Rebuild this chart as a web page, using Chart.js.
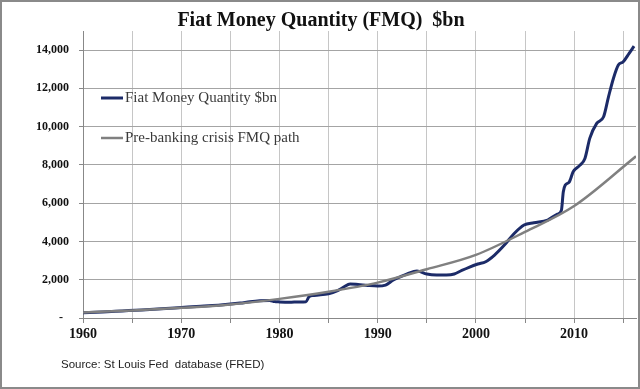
<!DOCTYPE html>
<html lang="en">
<head>
  <meta charset="UTF-8">
  <title>Fiat Money Quantity (FMQ) $bn</title>
  <script src="https://cdn.jsdelivr.net/npm/chart.js"></script>
  <style>
    body { margin: 0; background: #ffffff; }
    #wrap { width: 640px; height: 389px; }
  </style>
</head>
<body>
  <div id="wrap">
    <canvas id="fmqChart" width="640" height="389"></canvas>
  </div>

  <script>
    // Fiat money quantity, $bn
    const fmqYears = [1960, 1962, 1964, 1966, 1968, 1970, 1972, 1974, 1976, 1977, 1978, 1979, 1979.5, 1980, 1981, 1982, 1982.7, 1983.0, 1983.5, 1984, 1985, 1985.8, 1986.5, 1987.2, 1988, 1989, 1990, 1990.8, 1991.6, 1992.3, 1993, 1994, 1995, 1996, 1997, 1997.8, 1998.5, 1999.3, 2000.2, 2001, 2001.9, 2002.9, 2003.9, 2004.9, 2005.9, 2007.3, 2008.3, 2008.7, 2008.9, 2009.1, 2009.5, 2009.9, 2010.6, 2011.1, 2011.6, 2012.3, 2013.0, 2013.5, 2014.0, 2014.5, 2015.0, 2015.6, 2016.1];
    const fmqValues = [280, 320, 370, 420, 480, 550, 620, 680, 780, 850, 900, 920, 860, 840, 820, 840, 850, 1100, 1180, 1200, 1270, 1400, 1600, 1780, 1750, 1700, 1670, 1720, 1990, 2150, 2300, 2460, 2300, 2250, 2250, 2300, 2470, 2650, 2820, 2940, 3290, 3810, 4420, 4860, 4980, 5120, 5430, 5620, 6600, 6950, 7100, 7640, 7990, 8340, 9400, 10170, 10520, 11560, 12520, 13220, 13390, 13830, 14210];

    // Pre-banking crisis FMQ path, $bn
    const pathYears = [1960, 1965, 1970, 1975, 1980, 1985, 1990, 1995, 2000, 2005, 2010, 2016.3];
    const pathValues = [290, 390, 530, 710, 1000, 1370, 1850, 2550, 3300, 4500, 5850, 8450];

    const xTickYears = [1960, 1965, 1970, 1975, 1980, 1985, 1990, 1995, 2000, 2005, 2010, 2015];
    const yTickValues = [0, 2000, 4000, 6000, 8000, 10000, 12000, 14000];

    const seriesLabels = ['Fiat Money Quantity $bn', 'Pre-banking crisis FMQ path'];
    const seriesColors = ['#1c2b68', '#808080'];

    function toPoints(xs, ys) {
      return xs.map((x, i) => ({ x: x, y: ys[i] }));
    }

    // title, legend, source note and frame
    const decorations = {
      id: 'decorations',
      afterDraw(chart) {
        const ctx = chart.ctx;
        ctx.save();

        ctx.fillStyle = '#111';
        ctx.font = 'bold 20px "Liberation Serif", serif';
        ctx.textAlign = 'center';
        ctx.textBaseline = 'alphabetic';
        ctx.fillText('Fiat Money Quantity (FMQ)  $bn', 321, 26);

        // legend inside the plot
        const rows = [98, 138];
        ctx.font = '15px "Liberation Serif", serif';
        ctx.textAlign = 'left';
        ctx.textBaseline = 'middle';
        rows.forEach((y, i) => {
          ctx.strokeStyle = seriesColors[i];
          ctx.lineWidth = i === 0 ? 3 : 2.5;
          ctx.beginPath();
          ctx.moveTo(101, y);
          ctx.lineTo(123, y);
          ctx.stroke();
          ctx.fillStyle = '#3a3a3a';
          ctx.fillText(seriesLabels[i], 125, y);
        });

        ctx.font = '11.5px "Liberation Sans", sans-serif';
        ctx.fillStyle = '#222';
        ctx.fillText('Source: St Louis Fed  database (FRED)', 61, 365);

        ctx.strokeStyle = '#8a8a8a';
        ctx.lineWidth = 2;
        ctx.strokeRect(1, 1, 638, 387);
        ctx.restore();
      }
    };

    const ctx = document.getElementById('fmqChart').getContext('2d');
    new Chart(ctx, {
      type: 'line',
      data: {
        datasets: [
          {
            label: seriesLabels[1],
            data: toPoints(pathYears, pathValues),
            borderColor: seriesColors[1],
            borderWidth: 2.5,
            pointRadius: 0,
            cubicInterpolationMode: 'monotone',
            fill: false
          },
          {
            label: seriesLabels[0],
            data: toPoints(fmqYears, fmqValues),
            borderColor: seriesColors[0],
            borderWidth: 3,
            pointRadius: 0,
            cubicInterpolationMode: 'monotone',
            fill: false
          }
        ]
      },
      options: {
        responsive: false,
        animation: false,
        layout: { padding: { top: 31, right: 4, left: 0, bottom: 0 } },
        plugins: {
          legend: { display: false },
          title: { display: false },
          tooltip: { enabled: false }
        },
        scales: {
          x: {
            type: 'linear',
            min: 1960,
            max: 2016.3,
            afterBuildTicks: scale => { scale.ticks = xTickYears.map(v => ({ value: v })); },
            afterFit: scale => { scale.height = 71; },
            border: { color: '#888', width: 1 },
            grid: { color: '#c6c6c6', lineWidth: 1, tickLength: 5, tickColor: '#888' },
            ticks: {
              autoSkip: false,
              maxRotation: 0,
              padding: 3,
              color: '#111',
              font: { family: '"Liberation Serif", serif', size: 14, weight: 'bold' },
              callback: v => (v % 10 === 0 ? String(v) : '')
            }
          },
          y: {
            min: 0,
            max: 15000,
            afterBuildTicks: scale => { scale.ticks = yTickValues.map(v => ({ value: v })); },
            afterFit: scale => { scale.width = 83; },
            border: { color: '#888', width: 1 },
            grid: { color: '#a4a4a4', lineWidth: 1, tickLength: 4, tickColor: '#888' },
            ticks: {
              padding: 10,
              color: '#111',
              font: { family: '"Liberation Serif", serif', size: 12, weight: 'bold' },
              callback: v => (v === 0 ? '-  ' : v.toLocaleString('en-US'))
            }
          }
        }
      },
      plugins: [decorations]
    });
  </script>
</body>
</html>
